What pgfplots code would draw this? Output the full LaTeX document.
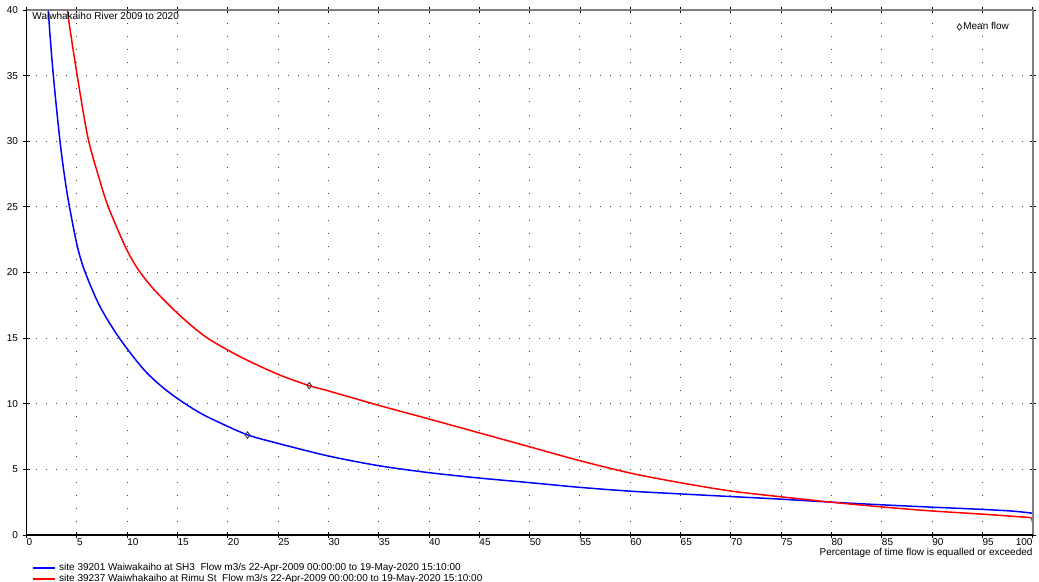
\documentclass[border=0pt]{standalone}
\usepackage{fontspec}
\setmainfont{Liberation Sans}
\usepackage{pgfplots}
\pgfplotsset{compat=1.18}
\begin{document}
\fontsize{10bp}{12bp}\selectfont
\begin{tikzpicture}
\useasboundingbox (-26.5bp,-47bp) rectangle (1012.5bp,535bp);
\begin{axis}[
  at={(0,0)}, anchor=south west,
  scale only axis, width=1006.2bp, height=525bp,
  xmin=0, xmax=100, ymin=0, ymax=40,
  xtick={0,5,...,95}, ytick={0,5,...,40},
  extra x ticks={100},
  extra x tick style={grid=none, xticklabel style={anchor=north east}},
  grid=major,
  x grid style={black!75, line width=0.9bp, dash pattern=on 0.9bp off 12.225bp, dash phase=0.45bp},
  y grid style={black!75, line width=0.9bp, dash pattern=on 0.9bp off 9.162bp, dash phase=0.45bp},
  axis line style={draw=none},
  tick style={black, line width=0.8bp},
  major tick length=6bp, tick align=center,
  /pgf/number format/assume math mode=true,
  ticklabel style={font=\fontsize{10bp}{12bp}\selectfont},
  xticklabel style={anchor=north west, inner sep=0pt, yshift=0bp},
  yticklabel style={anchor=east, inner sep=0pt, xshift=-5.4bp},
  xlabel={Percentage of time flow is equalled or exceeded},
  xlabel style={at={(axis description cs:1,0)}, anchor=north east, inner sep=0pt, yshift=-13.5bp, font=\fontsize{10bp}{12bp}\selectfont},
  legend style={at={(axis description cs:0,0)}, anchor=north west, xshift=5.2bp, yshift=-27bp,
    draw=none, fill=none, inner sep=0pt, outer sep=0pt, row sep=0pt,
    font=\fontsize{10bp}{12bp}\selectfont,
    nodes={inner sep=0pt, text height=8bp, text depth=3bp},
    /tikz/every odd column/.append style={column sep=3.5bp}},
  legend cell align=left,
  legend image code/.code={\draw[#1, line width=2bp] (0bp,0bp) -- (22bp,0bp);},
  after end axis/.code={
    \draw[black!50, line width=1.6bp] (rel axis cs:0,1) -- (rel axis cs:1,1) -- (rel axis cs:1,0);
    \draw[black, line width=1.2bp] (rel axis cs:0,1) -- (rel axis cs:0,0) -- (rel axis cs:1,0);
    \node[anchor=base west, inner sep=0pt, xshift=5.8bp, yshift=-10bp] at (rel axis cs:0,1) {Waiwhakaiho River 2009 to 2020};
  },
]
\addplot[color=blue, line width=1.5bp, smooth] coordinates {
(1.85,46) (2.17,40) (2.67,35) (3.33,30) (3.83,27.07) (4.26,25.05) (5.05,22.0) (5.82,20.04)
(7.3,17.41) (9.23,15.0) (11.55,12.7) (13.3,11.4) (15,10.4) (17.2,9.32) (19.3,8.52)
(22,7.62) (25,6.98) (30,6.02) (35,5.28) (40,4.75) (45,4.34) (50,3.99) (55,3.63)
(60,3.34) (65,3.13) (70,2.93) (75,2.73) (80,2.5) (85,2.3) (90,2.12) (95,1.95)
(98,1.82) (100,1.66)};
\addlegendentry{site 39201 Waiwakaiho at SH3~ Flow m3/s 22-Apr-2009 00:00:00 to 19-May-2020 15:10:00}
\addplot[color=red, line width=1.5bp, smooth] coordinates {
(3.75,43) (4.06,40) (5.0,35.2) (6.1,30.3) (7.25,27.1) (8.13,25.0) (9.8,22.0) (10.95,20.4)
(12.5,18.85) (15.0,16.9) (17.8,15.1) (21.2,13.6) (25,12.24) (28.1,11.38) (30,10.98) (35,9.88)
(40,8.84) (45,7.78) (50,6.72) (55,5.66) (60,4.72) (65,3.98) (70,3.35) (75,2.91)
(80,2.5) (85,2.14) (90,1.83) (95,1.59) (99.9,1.32)};
\addlegendentry{site 39237 Waiwhakaiho at Rimu St~ Flow m3/s 22-Apr-2009 00:00:00 to 19-May-2020 15:10:00}
\addplot[color=red, line width=1.5bp, forget plot] coordinates {(99.9,1.32) (100,0.92)};
\end{axis}
\begin{axis}[
  at={(0,0)}, anchor=south west,
  scale only axis, width=1006.2bp, height=525bp,
  xmin=0, xmax=100, ymin=0, ymax=40,
  hide axis,
  legend style={at={(axis description cs:0,1)}, anchor=west, xshift=930.5bp, yshift=-17bp,
    draw=none, fill=none, inner sep=0pt, outer sep=0pt,
    font=\fontsize{10bp}{12bp}\selectfont,
    nodes={inner sep=0pt, text height=7.5bp, text depth=2bp},
    /tikz/every odd column/.append style={column sep=1.5bp}},
  legend image code/.code={\draw[#1] plot coordinates {(0bp,0bp)};},
]
\addplot[only marks, mark=diamond, mark size=3.2bp, black!75, line width=0.9bp] coordinates {(21.97,7.62) (28.1,11.38)};
\addlegendentry{Mean flow}
\end{axis}
\end{tikzpicture}
\end{document}
